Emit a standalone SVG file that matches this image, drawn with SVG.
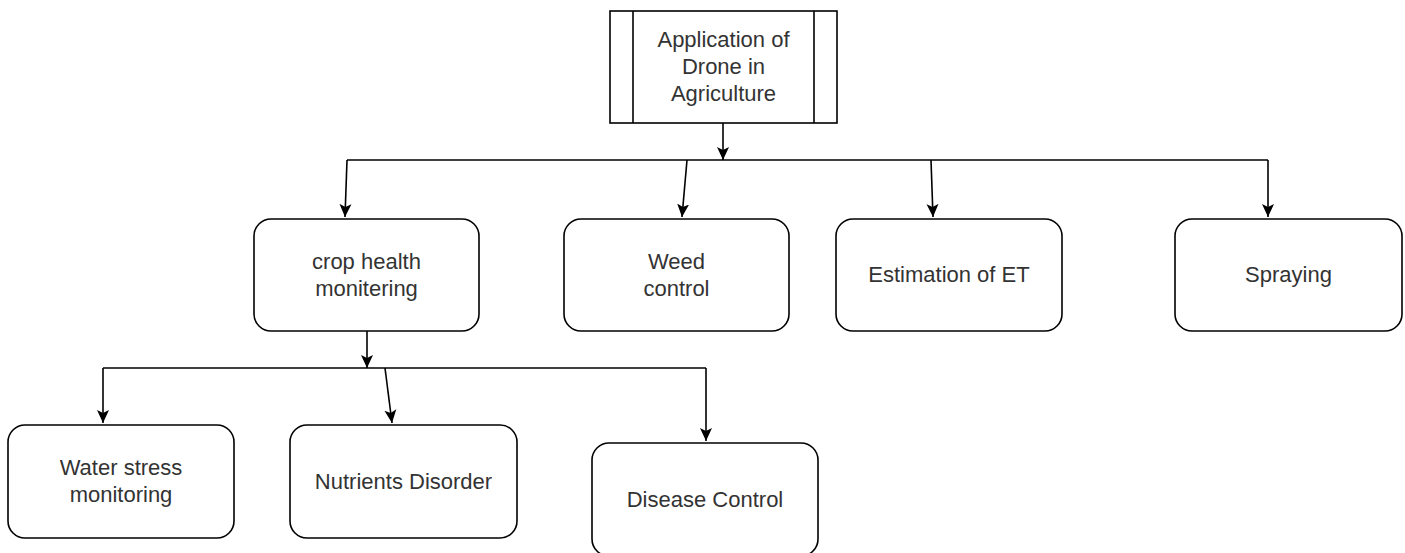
<svg xmlns="http://www.w3.org/2000/svg" width="1405" height="553" viewBox="0 0 1405 553">
<style>
.box{fill:#fff;stroke:#000;stroke-width:1.6}
.lbl{font-family:"Liberation Sans",Arial,sans-serif;font-size:22px;fill:#333;text-anchor:middle}
.edge{fill:none;stroke:#000;stroke-width:1.6}
</style>
<defs>
<marker id="arr" markerUnits="userSpaceOnUse" markerWidth="14" markerHeight="14" viewBox="0 0 14 14" refX="13" refY="7" orient="auto">
<path d="M0,1 L13,7 L0,13 L3,7 z" fill="#000"/>
</marker>
</defs>
<rect width="1405" height="553" fill="#fff"/>
<g id="root">
<rect class="box" x="610" y="11" width="227" height="112"/>
<line class="edge" x1="633" y1="11" x2="633" y2="123"/>
<line class="edge" x1="814" y1="11" x2="814" y2="123"/>
<text class="lbl" x="723.5" y="47">Application of</text>
<text class="lbl" x="723.5" y="74">Drone in</text>
<text class="lbl" x="723.5" y="101">Agriculture</text>
</g>
<g id="crop">
<rect class="box" x="254" y="219" width="225" height="112" rx="17"/>
<text class="lbl" x="366.5" y="269">crop health</text>
<text class="lbl" x="366.5" y="296">monitering</text>
</g>
<g id="weed">
<rect class="box" x="564" y="219" width="225" height="112" rx="17"/>
<text class="lbl" x="676.5" y="269">Weed</text>
<text class="lbl" x="676.5" y="296">control</text>
</g>
<g id="et">
<rect class="box" x="836" y="219" width="226" height="112" rx="17"/>
<text class="lbl" x="949" y="282">Estimation of ET</text>
</g>
<g id="spray">
<rect class="box" x="1175" y="219" width="227" height="112" rx="17"/>
<text class="lbl" x="1288.5" y="282">Spraying</text>
</g>
<g id="water">
<rect class="box" x="8" y="425" width="226" height="113" rx="17"/>
<text class="lbl" x="121" y="475">Water stress</text>
<text class="lbl" x="121" y="502">monitoring</text>
</g>
<g id="nutrients">
<rect class="box" x="290" y="425" width="227" height="113" rx="17"/>
<text class="lbl" x="403.5" y="489">Nutrients Disorder</text>
</g>
<g id="disease">
<rect class="box" x="592" y="443" width="226" height="113" rx="17"/>
<text class="lbl" x="705" y="507">Disease Control</text>
</g>
<g id="connectors">
<path class="edge" d="M723,123 L723,160" marker-end="url(#arr)"/>
<path class="edge" d="M347,160 L1268,160"/>
<path class="edge" d="M347,160 L345,217" marker-end="url(#arr)"/>
<path class="edge" d="M687,160 L682,217" marker-end="url(#arr)"/>
<path class="edge" d="M931,160 L933,217" marker-end="url(#arr)"/>
<path class="edge" d="M1268,160 L1268,217" marker-end="url(#arr)"/>
<path class="edge" d="M367,331 L367,368" marker-end="url(#arr)"/>
<path class="edge" d="M103,368 L706,368"/>
<path class="edge" d="M103,368 L103,423" marker-end="url(#arr)"/>
<path class="edge" d="M385,368 L392,423" marker-end="url(#arr)"/>
<path class="edge" d="M706,368 L706,441" marker-end="url(#arr)"/>
</g>
</svg>
